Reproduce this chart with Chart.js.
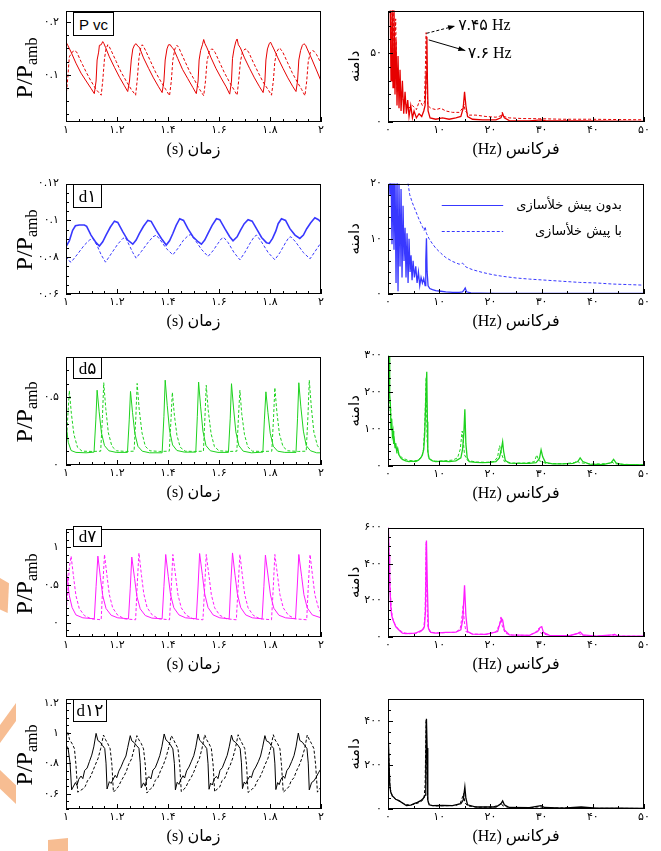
<!DOCTYPE html>
<html lang="fa">
<head>
<meta charset="utf-8">
<title>Pressure signals and spectra</title>
<script src="https://cdn.jsdelivr.net/npm/chart.js@4.4.1/dist/chart.umd.min.js"></script>
<style>
  html, body { margin:0; padding:0; background:#fff; }
  body { position:relative; width:661px; height:851px; overflow:hidden; }
  canvas { position:absolute; }
  .ytitle { position:absolute; font-family:'Liberation Serif','Times New Roman',serif; font-size:24px; line-height:24px; white-space:nowrap; color:#000; transform:translate(-50%,-50%) rotate(-90deg); }
  .ytitle span { font-size:16px; position:relative; top:5px; }
  .tag { position:absolute; border:1px solid #000; background:#fff; color:#000; box-sizing:border-box; display:flex; align-items:center; justify-content:center; z-index:5; white-space:nowrap; }
  .tag .sp { margin-left:4px; }
  .deco { position:absolute; background:#f7bd92; }
</style>
</head>
<body>
<script>
// ---------------- tick labels ----------------
const timeTicks = [1, 1.2, 1.4, 1.6, 1.8, 2];
const timeTickLabels = ['۱', '۱.۲', '۱.۴', '۱.۶', '۱.۸', '۲'];
const freqTicks = [0, 10, 20, 30, 40, 50];
const freqTickLabels = ['۰', '۱۰', '۲۰', '۳۰', '۴۰', '۵۰'];

const pvcYTicks = [0.1, 0.2];            const pvcYTickLabels = ['۰.۱', '۰.۲'];
const d1YTicks = [0.06, 0.08, 0.1, 0.12]; const d1YTickLabels = ['۰.۰۶', '۰.۰۸', '۰.۱', '۰.۱۲'];
const d5YTicks = [0, 0.5];               const d5YTickLabels = ['۰', '۰.۵'];
const d7YTicks = [0, 0.5, 1];            const d7YTickLabels = ['۰', '۰.۵', '۱'];
const d12YTicks = [0.6, 0.8, 1, 1.2];    const d12YTickLabels = ['۰.۶', '۰.۸', '۱', '۱.۲'];

const pvcAmpTicks = [0, 50];             const pvcAmpTickLabels = ['۰', '۵۰'];
const d1AmpTicks = [0, 10, 20];          const d1AmpTickLabels = ['۰', '۱۰', '۲۰'];
const d5AmpTicks = [0, 100, 200, 300];   const d5AmpTickLabels = ['۰', '۱۰۰', '۲۰۰', '۳۰۰'];
const d7AmpTicks = [0, 200, 400, 600];   const d7AmpTickLabels = ['۰', '۲۰۰', '۴۰۰', '۶۰۰'];
const d12AmpTicks = [0, 200, 400];       const d12AmpTickLabels = ['۰', '۲۰۰', '۴۰۰'];

const panelNames = ['Pvc', 'd۱', 'd۵', 'd۷', 'd۱۲'];
const seriesNames = ['بدون پیش خلأسازی', 'با پیش خلأسازی'];
const timeAxisTitle = 'زمان (s)';
const freqAxisTitle = 'فرکانس (Hz)';
const ampAxisTitle = 'دامنه';

// ---------------- time signals [t (s), P/Pamb] ----------------
const pvcTimeSolid = [[1.000,0.162],[1.007,0.156],[1.020,0.143],[1.039,0.122],[1.059,0.103],[1.079,0.088],[1.098,0.074],[1.111,0.064],
 [1.118,0.088],[1.122,0.128],[1.128,0.143],[1.131,0.156],[1.138,0.157],[1.144,0.163],[1.149,0.159],[1.155,0.152],[1.170,0.134],[1.190,0.114],[1.210,0.095],[1.229,0.079],[1.242,0.068],
 [1.249,0.088],[1.256,0.128],[1.262,0.149],[1.269,0.157],[1.275,0.159],[1.282,0.154],[1.288,0.152],[1.304,0.132],[1.324,0.112],[1.343,0.094],[1.363,0.077],[1.377,0.066],
 [1.384,0.088],[1.389,0.128],[1.396,0.149],[1.402,0.157],[1.409,0.157],[1.415,0.152],[1.422,0.149],[1.438,0.131],[1.457,0.110],[1.477,0.093],[1.497,0.076],[1.511,0.064],
 [1.518,0.088],[1.522,0.128],[1.528,0.146],[1.535,0.157],[1.540,0.167],[1.545,0.159],[1.553,0.151],[1.569,0.132],[1.588,0.112],[1.608,0.094],[1.628,0.077],[1.642,0.063],
 [1.649,0.088],[1.653,0.131],[1.659,0.149],[1.666,0.163],[1.671,0.168],[1.676,0.157],[1.684,0.151],[1.700,0.132],[1.720,0.112],[1.739,0.094],[1.759,0.077],[1.773,0.066],
 [1.780,0.088],[1.784,0.128],[1.790,0.149],[1.797,0.159],[1.802,0.162],[1.808,0.156],[1.815,0.149],[1.831,0.132],[1.851,0.112],[1.870,0.094],[1.890,0.077],[1.902,0.068],
 [1.908,0.088],[1.913,0.128],[1.920,0.146],[1.927,0.156],[1.933,0.159],[1.940,0.156],[1.946,0.149],[1.962,0.132],[1.982,0.109],[2.000,0.088]];
const pvcTimeDashed = [[1.000,0.057],[1.007,0.094],[1.013,0.134],[1.024,0.143],[1.033,0.146],[1.042,0.143],[1.059,0.125],[1.079,0.105],[1.098,0.088],[1.118,0.072],[1.138,0.061],
 [1.144,0.088],[1.151,0.131],[1.157,0.149],[1.164,0.157],[1.170,0.153],[1.180,0.143],[1.197,0.125],[1.216,0.105],[1.236,0.088],[1.256,0.072],[1.273,0.061],
 [1.279,0.088],[1.286,0.131],[1.292,0.149],[1.299,0.157],[1.305,0.153],[1.315,0.143],[1.332,0.125],[1.351,0.105],[1.371,0.088],[1.391,0.072],[1.406,0.060],
 [1.413,0.088],[1.419,0.128],[1.427,0.149],[1.435,0.156],[1.442,0.152],[1.450,0.143],[1.467,0.125],[1.486,0.105],[1.506,0.088],[1.524,0.072],[1.540,0.060],
 [1.547,0.088],[1.553,0.125],[1.561,0.143],[1.571,0.149],[1.577,0.148],[1.585,0.142],[1.602,0.124],[1.621,0.104],[1.641,0.086],[1.658,0.072],[1.671,0.061],
 [1.677,0.088],[1.684,0.125],[1.692,0.143],[1.702,0.149],[1.709,0.148],[1.717,0.142],[1.734,0.124],[1.754,0.104],[1.773,0.086],[1.792,0.072],[1.806,0.061],
 [1.813,0.088],[1.819,0.125],[1.827,0.144],[1.836,0.151],[1.843,0.148],[1.851,0.142],[1.868,0.124],[1.887,0.104],[1.907,0.086],[1.924,0.072],[1.937,0.060],
 [1.944,0.088],[1.950,0.125],[1.958,0.142],[1.967,0.146],[1.974,0.144],[1.983,0.138],[2.000,0.122]];

const d1TimeSolid = [[1.000,0.0857],[1.013,0.0889],[1.026,0.0946],[1.037,0.0971],[1.052,0.0975],[1.072,0.0975],[1.081,0.0968],[1.098,0.0920],[1.118,0.0879],[1.131,0.0861],
 [1.144,0.0884],[1.157,0.0920],[1.174,0.0964],[1.190,0.0996],[1.203,0.0989],[1.223,0.0938],[1.242,0.0893],[1.262,0.0871],[1.275,0.0893],[1.288,0.0929],[1.304,0.0968],
 [1.321,0.1000],[1.334,0.0995],[1.354,0.0946],[1.374,0.0902],[1.393,0.0866],[1.406,0.0889],[1.419,0.0929],[1.432,0.0973],[1.446,0.1009],[1.461,0.1000],[1.478,0.0955],
 [1.498,0.0911],[1.518,0.0884],[1.531,0.0871],[1.544,0.0893],[1.557,0.0929],[1.573,0.0973],[1.590,0.1009],[1.603,0.1004],[1.623,0.0955],[1.642,0.0911],[1.655,0.0889],
 [1.671,0.0911],[1.684,0.0946],[1.699,0.0982],[1.714,0.1004],[1.730,0.0996],[1.747,0.0955],[1.767,0.0907],[1.786,0.0879],[1.797,0.0875],[1.810,0.0902],[1.823,0.0943],
 [1.832,0.0982],[1.845,0.1009],[1.861,0.1000],[1.878,0.0955],[1.898,0.0920],[1.917,0.0902],[1.931,0.0920],[1.944,0.0955],[1.959,0.0986],[1.976,0.1014],[1.990,0.1004],[2.000,0.0991]];
const d1TimeDashed = [[1.000,0.0804],[1.010,0.0782],[1.020,0.0773],[1.046,0.0818],[1.072,0.0866],[1.092,0.0893],[1.105,0.0902],[1.121,0.0866],[1.138,0.0813],[1.155,0.0773],
 [1.177,0.0818],[1.203,0.0871],[1.223,0.0902],[1.233,0.0907],[1.246,0.0871],[1.262,0.0825],[1.275,0.0795],[1.295,0.0830],[1.321,0.0879],[1.341,0.0911],[1.354,0.0920],
 [1.370,0.0893],[1.393,0.0848],[1.419,0.0813],[1.439,0.0848],[1.461,0.0893],[1.478,0.0916],[1.488,0.0923],[1.505,0.0896],[1.531,0.0843],[1.557,0.0804],[1.577,0.0836],
 [1.596,0.0875],[1.609,0.0900],[1.619,0.0907],[1.636,0.0879],[1.659,0.0825],[1.682,0.0786],[1.701,0.0825],[1.723,0.0879],[1.738,0.0911],[1.747,0.0920],[1.764,0.0889],
 [1.793,0.0825],[1.819,0.0786],[1.839,0.0825],[1.861,0.0879],[1.874,0.0907],[1.882,0.0911],[1.900,0.0884],[1.931,0.0825],[1.957,0.0791],[1.976,0.0830],[2.000,0.0879]];

const d5TimeSolid = [[1.000,0.298],[1.009,0.167],[1.020,0.107],[1.039,0.093],[1.079,0.090],[1.110,0.095],[1.117,0.333],[1.122,0.552],[1.130,0.393],[1.139,0.238],[1.151,0.143],
 [1.168,0.105],[1.197,0.093],[1.241,0.093],[1.248,0.333],[1.253,0.543],[1.261,0.386],[1.270,0.233],[1.282,0.138],[1.299,0.102],[1.328,0.090],[1.377,0.090],[1.384,0.357],
 [1.389,0.626],[1.397,0.440],[1.406,0.257],[1.418,0.148],[1.435,0.107],[1.465,0.095],[1.509,0.095],[1.515,0.357],[1.520,0.612],[1.528,0.429],[1.537,0.250],[1.549,0.143],
 [1.566,0.105],[1.596,0.093],[1.637,0.093],[1.644,0.345],[1.649,0.600],[1.657,0.421],[1.666,0.245],[1.678,0.143],[1.695,0.102],[1.727,0.090],[1.772,0.095],[1.778,0.333],
 [1.784,0.540],[1.792,0.386],[1.801,0.233],[1.813,0.138],[1.830,0.102],[1.858,0.093],[1.902,0.093],[1.908,0.345],[1.913,0.607],[1.921,0.429],[1.931,0.250],[1.942,0.143],
 [1.959,0.105],[1.983,0.090],[2.000,0.090]];
const d5TimeDashed = [[1.000,0.107],[1.007,0.357],[1.013,0.548],[1.021,0.381],[1.031,0.226],[1.045,0.131],[1.063,0.102],[1.105,0.100],[1.136,0.102],[1.143,0.357],[1.148,0.607],
 [1.156,0.417],[1.166,0.238],[1.180,0.138],[1.198,0.105],[1.236,0.100],[1.267,0.102],[1.274,0.357],[1.279,0.602],[1.287,0.412],[1.298,0.238],[1.311,0.138],[1.329,0.105],
 [1.367,0.100],[1.405,0.102],[1.412,0.345],[1.417,0.536],[1.425,0.369],[1.435,0.219],[1.448,0.131],[1.467,0.102],[1.505,0.100],[1.539,0.102],[1.545,0.357],[1.550,0.588],
 [1.558,0.400],[1.569,0.231],[1.582,0.136],[1.600,0.105],[1.642,0.100],[1.670,0.102],[1.676,0.345],[1.682,0.552],[1.689,0.381],[1.700,0.224],[1.713,0.133],[1.731,0.102],
 [1.773,0.100],[1.807,0.102],[1.814,0.352],[1.819,0.571],[1.827,0.390],[1.837,0.229],[1.851,0.136],[1.869,0.105],[1.911,0.100],[1.942,0.102],[1.949,0.369],[1.954,0.626],
 [1.962,0.429],[1.972,0.243],[1.986,0.143],[2.000,0.107]];

const d7TimeSolid = [[1.000,0.732],[1.007,0.528],[1.013,0.357],[1.024,0.200],[1.039,0.102],[1.066,0.064],[1.111,0.051],[1.118,0.477],[1.125,0.881],[1.135,0.596],[1.144,0.357],
 [1.157,0.187],[1.177,0.098],[1.203,0.064],[1.245,0.051],[1.252,0.455],[1.258,0.868],[1.269,0.583],[1.278,0.349],[1.291,0.183],[1.311,0.094],[1.337,0.060],[1.377,0.051],
 [1.384,0.477],[1.391,0.902],[1.401,0.613],[1.410,0.370],[1.423,0.196],[1.443,0.102],[1.469,0.064],[1.511,0.051],[1.518,0.485],[1.524,0.915],[1.535,0.626],[1.544,0.379],
 [1.557,0.200],[1.577,0.102],[1.603,0.064],[1.640,0.051],[1.646,0.498],[1.653,0.923],[1.663,0.626],[1.672,0.383],[1.685,0.200],[1.705,0.102],[1.731,0.064],[1.769,0.051],
 [1.776,0.477],[1.782,0.894],[1.793,0.604],[1.802,0.366],[1.815,0.191],[1.835,0.098],[1.861,0.064],[1.900,0.051],[1.907,0.485],[1.913,0.902],[1.924,0.613],[1.933,0.370],
 [1.946,0.196],[1.966,0.102],[2.000,0.064]];
const d7TimeDashed = [[1.000,0.094],[1.007,0.434],[1.013,0.732],[1.020,0.881],[1.030,0.596],[1.039,0.357],[1.052,0.187],[1.072,0.094],[1.098,0.051],[1.138,0.038],[1.144,0.477],
 [1.151,0.902],[1.161,0.613],[1.170,0.370],[1.183,0.196],[1.203,0.098],[1.229,0.051],[1.273,0.038],[1.279,0.485],[1.286,0.923],[1.296,0.626],[1.305,0.383],[1.318,0.200],
 [1.338,0.102],[1.364,0.051],[1.406,0.038],[1.413,0.477],[1.419,0.902],[1.430,0.613],[1.439,0.370],[1.452,0.196],[1.472,0.098],[1.498,0.051],[1.537,0.038],[1.544,0.477],
 [1.550,0.902],[1.561,0.613],[1.570,0.370],[1.583,0.196],[1.603,0.098],[1.629,0.051],[1.668,0.038],[1.675,0.477],[1.682,0.902],[1.692,0.613],[1.701,0.370],[1.714,0.196],
 [1.734,0.098],[1.760,0.051],[1.806,0.038],[1.813,0.477],[1.819,0.902],[1.830,0.613],[1.839,0.370],[1.852,0.196],[1.872,0.098],[1.898,0.051],[1.944,0.038],[1.950,0.477],
 [1.957,0.902],[1.967,0.613],[1.976,0.370],[1.990,0.196],[2.000,0.128]];

const d12TimeSolid = [[1.000,0.919],[1.008,0.902],[1.016,0.802],[1.022,0.626],
 [1.037,0.674],[1.043,0.655],[1.050,0.696],[1.059,0.717],[1.066,0.700],[1.073,0.753],[1.083,0.770],[1.092,0.813],[1.101,0.855],[1.109,0.909],[1.118,0.998],[1.125,0.951],[1.134,0.940],[1.143,0.919],[1.152,0.898],[1.157,0.802],[1.161,0.632],
 [1.170,0.680],[1.177,0.668],[1.183,0.690],[1.193,0.722],[1.199,0.706],[1.207,0.749],[1.216,0.778],[1.225,0.815],[1.235,0.849],[1.242,0.905],[1.252,0.983],[1.258,0.949],[1.267,0.938],[1.277,0.917],[1.286,0.900],[1.291,0.805],[1.295,0.640],
 [1.304,0.672],[1.311,0.650],[1.317,0.700],[1.326,0.713],[1.333,0.698],[1.341,0.757],[1.350,0.772],[1.359,0.810],[1.368,0.853],[1.376,0.911],[1.385,0.994],[1.392,0.955],[1.401,0.942],[1.410,0.921],[1.419,0.896],[1.425,0.800],[1.429,0.626],
 [1.436,0.676],[1.443,0.662],[1.450,0.694],[1.459,0.719],[1.465,0.704],[1.473,0.751],[1.482,0.776],[1.491,0.811],[1.501,0.851],[1.509,0.907],[1.518,0.994],[1.524,0.953],[1.533,0.938],[1.543,0.919],[1.552,0.898],[1.557,0.798],[1.561,0.630],
 [1.567,0.670],[1.574,0.658],[1.581,0.698],[1.590,0.715],[1.596,0.700],[1.604,0.755],[1.613,0.772],[1.623,0.815],[1.632,0.853],[1.640,0.909],[1.649,0.987],[1.655,0.951],[1.664,0.940],[1.674,0.921],[1.683,0.898],[1.688,0.804],[1.692,0.634],
 [1.699,0.678],[1.705,0.664],[1.712,0.692],[1.721,0.717],[1.727,0.706],[1.735,0.751],[1.744,0.776],[1.754,0.811],[1.763,0.849],[1.771,0.907],[1.780,0.983],[1.786,0.949],[1.796,0.940],[1.805,0.917],[1.814,0.900],[1.819,0.802],[1.823,0.628],
 [1.830,0.674],[1.836,0.660],[1.843,0.696],[1.852,0.717],[1.858,0.702],[1.866,0.753],[1.875,0.774],[1.885,0.813],[1.894,0.851],[1.902,0.909],[1.911,1.000],[1.917,0.951],[1.927,0.940],[1.936,0.919],[1.945,0.898],[1.950,0.802],[1.954,0.626],
 [1.963,0.674],[1.972,0.685],[1.980,0.706],[1.990,0.738],[2.000,0.766]];
const d12TimeDashed = [[1.000,0.972],[1.007,1.004],[1.014,0.957],[1.024,0.930],[1.033,0.898],[1.039,0.791],[1.046,0.611],
 [1.066,0.632],[1.075,0.647],[1.084,0.685],[1.094,0.706],[1.105,0.749],[1.115,0.791],[1.126,0.834],[1.136,0.898],[1.147,0.987],[1.155,0.957],[1.164,0.930],[1.173,0.898],[1.180,0.791],[1.186,0.611],
 [1.197,0.630],[1.206,0.649],[1.215,0.681],[1.225,0.710],[1.236,0.745],[1.246,0.795],[1.257,0.830],[1.267,0.896],[1.278,0.983],[1.286,0.955],[1.295,0.932],[1.304,0.896],[1.311,0.789],[1.317,0.605],
 [1.332,0.634],[1.341,0.645],[1.350,0.689],[1.360,0.704],[1.371,0.753],[1.381,0.787],[1.392,0.838],[1.402,0.900],[1.413,0.983],[1.421,0.959],[1.430,0.928],[1.439,0.900],[1.446,0.793],[1.452,0.615],
 [1.463,0.630],[1.472,0.651],[1.481,0.683],[1.491,0.708],[1.502,0.747],[1.512,0.793],[1.523,0.832],[1.533,0.896],[1.544,0.989],[1.552,0.955],[1.561,0.930],[1.570,0.898],[1.577,0.789],[1.583,0.613],
 [1.594,0.634],[1.603,0.645],[1.612,0.687],[1.623,0.704],[1.633,0.751],[1.644,0.789],[1.654,0.836],[1.664,0.898],[1.675,0.989],[1.683,0.957],[1.692,0.928],[1.701,0.898],[1.708,0.791],[1.714,0.609],
 [1.731,0.632],[1.741,0.649],[1.750,0.685],[1.760,0.708],[1.771,0.749],[1.781,0.793],[1.792,0.834],[1.802,0.896],[1.813,0.989],[1.820,0.955],[1.830,0.930],[1.839,0.896],[1.845,0.791],[1.852,0.611],
 [1.865,0.630],[1.874,0.647],[1.883,0.685],[1.894,0.706],[1.904,0.751],[1.915,0.789],[1.925,0.834],[1.936,0.898],[1.946,0.987],[1.954,0.957],[1.963,0.930],[1.972,0.898],[1.979,0.791],[1.986,0.611],
 [1.993,0.632],[2.000,0.643]];

// ---------------- spectra [f (Hz), amplitude] ----------------
const pvcSpecSolid = [[0.20,120],[0.39,100],[0.59,30],[0.78,95],[0.98,25],[1.17,85],[1.37,20],[1.57,60],[1.76,12],[1.96,48],[2.15,10],[2.35,38],[2.55,8],[2.81,30],[3.07,6],
 [3.33,22],[3.59,6],[3.85,16],[4.11,4],[4.44,12],[4.77,3],[5.09,8],[5.55,3],[6.07,6],[6.59,4],[6.98,8],[7.25,12],[7.44,35],[7.60,62],[7.70,30],[7.83,8],[8.22,3],[9.33,2],
 [10.64,3],[11.95,2],[13.25,3],[14.23,4],[14.69,10],[14.95,22],[15.21,12],[15.54,4],[16.51,2],[18.47,1.5],[21.08,1.5],[22.06,3],[22.39,6],[22.72,3],[23.69,1],[27.61,0.8],
 [29.90,1.5],[30.87,0.8],[37.40,0.8],[43.93,0.6],[50.00,0.5]];
const pvcSpecDashed = [[0.07,120],[0.46,90],[0.72,60],[0.98,85],[1.24,40],[1.50,75],[1.76,22],[2.15,30],[2.68,18],[3.33,14],[3.98,10],[4.77,12],[5.55,9],[6.20,16],[6.72,12],
 [7.11,14],[7.31,40],[7.45,65],[7.57,30],[7.77,12],[8.36,10],[9.33,9],[10.31,10],[11.29,8],[12.60,7],[13.90,7],[14.56,10],[14.82,13],[15.08,8],[15.86,5],[17.17,5],[19.13,4],
 [21.08,3.5],[22.06,4.5],[22.32,7],[22.58,4],[23.69,3],[26.31,2.5],[29.57,2.4],[34.14,2],[39.36,2],[44.58,1.8],[50.00,1.6]];

const d1SpecSolid = [[0.20,22],[0.39,18],[0.59,22],[0.78,9],[0.98,22],[1.17,8],[1.37,22],[1.57,2],[1.76,22],[1.96,0.5],[2.15,20],[2.35,5],[2.55,19],[2.74,3],[2.94,16],
 [3.13,6],[3.33,12],[3.52,3],[3.72,11],[3.92,2],[4.11,10],[4.31,4],[4.50,7],[4.70,2.5],[4.90,6],[5.16,3],[5.42,5],[5.68,2],[5.94,4],[6.20,1.5],[6.46,3],[6.72,2],[6.98,2.8],
 [7.25,1.5],[7.38,6],[7.51,10.1],[7.64,4],[7.83,1.5],[8.16,1],[8.68,0.8],[9.33,0.6],[10.31,0.5],[11.29,0.4],[12.60,0.3],[13.90,0.3],[14.56,0.4],[14.88,0.8],[15.08,1.1],
 [15.34,0.4],[16.19,0.2],[17.82,0.15],[21.08,0.1],[27.61,0.1],[34.14,0.1],[40.67,0.1],[50.00,0.1]];
const d1SpecDashed = [[0.20,25],[0.52,19],[0.85,24],[1.17,21],[1.50,25],[1.83,20],[2.15,24],[2.55,21],[2.94,23],[3.33,21],[3.59,22],[3.92,20],[4.24,18],[4.77,16.5],[5.42,15],
 [6.07,13.5],[6.72,12.2],[7.05,11.5],[7.25,12.2],[7.51,11],[8.03,10],[8.68,9.1],[9.33,8.3],[10.31,7.4],[11.29,6.6],[12.60,5.9],[13.90,5.4],[14.56,5.6],[15.21,4.9],[16.51,4.4],
 [18.47,3.9],[20.43,3.5],[22.39,3.2],[25.00,2.9],[27.61,2.7],[30.87,2.5],[34.14,2.3],[37.40,2.1],[40.67,2.0],[43.93,1.8],[47.19,1.7],[50.00,1.6]];

const d5SpecSolid = [[0.07,300],[0.20,296],[0.33,190],[0.46,170],[0.59,100],[0.72,128],[0.85,84],[0.98,95],[1.11,60],[1.24,70],[1.37,50],[1.50,62],[1.70,40],[1.89,48],
 [2.15,30],[2.48,22],[2.81,18],[3.46,14],[4.11,12],[4.77,13],[5.42,12],[5.94,16],[6.40,22],[6.72,30],[6.98,45],[7.18,90],[7.38,180],[7.57,256],[7.70,120],[7.77,40],[8.03,20],
 [8.68,14],[9.33,12],[10.64,13],[11.95,12],[13.25,14],[14.23,22],[14.56,45],[14.82,90],[15.01,154],[15.21,60],[15.47,22],[15.86,12],[17.17,10],[18.47,9],[19.78,10],
 [21.08,12],[21.74,22],[22.06,40],[22.39,66],[22.58,40],[22.91,15],[23.69,8],[25.65,7],[27.61,7],[28.92,9],[29.57,20],[29.90,44],[30.22,25],[30.74,10],[32.18,6],[34.14,6],
 [36.10,7],[37.08,12],[37.53,22],[38.05,12],[39.36,5],[41.97,4],[43.60,9],[44.06,18],[44.58,8],[45.89,4],[47.85,4],[50.00,3]];
const d5SpecDashed = [[0.07,300],[0.26,220],[0.39,150],[0.52,160],[0.65,110],[0.85,90],[1.04,75],[1.31,60],[1.57,50],[1.83,38],[2.15,30],[2.81,22],[3.79,16],[4.77,14],
 [5.74,15],[6.59,25],[6.92,45],[7.18,110],[7.44,240],[7.64,70],[7.90,25],[8.36,16],[9.33,13],[10.97,14],[12.60,16],[13.58,22],[14.10,45],[14.49,95],[14.69,70],[14.95,30],
 [15.54,15],[17.17,11],[19.13,10],[20.76,12],[21.41,25],[21.80,55],[22.13,35],[22.72,12],[24.35,8],[26.96,8],[28.59,12],[29.05,30],[29.44,15],[30.87,7],[34.14,6],[36.42,9],
 [36.88,14],[37.40,9],[40.01,5],[43.28,7],[43.67,11],[44.26,6],[47.19,4],[50.00,3]];

const d7SpecSolid = [[0.07,600],[0.20,450],[0.33,297],[0.52,173],[0.72,119],[0.98,93],[1.24,75],[1.50,57],[1.89,45],[2.28,34],[2.81,21],[3.46,18],[4.44,20],[5.42,21],
 [6.07,30],[6.72,39],[7.11,57],[7.31,137],[7.51,529],[7.70,262],[7.90,48],[8.36,25],[9.33,21],[11.29,25],[13.25,27],[14.23,39],[14.62,101],[14.95,283],[15.21,119],
 [15.54,30],[16.51,16],[19.13,14],[21.41,30],[21.87,75],[22.19,101],[22.39,93],[22.72,39],[23.69,12],[27.61,9],[29.24,30],[29.70,52],[30.03,57],[30.35,25],[31.53,9],
 [35.44,7],[37.08,20],[37.53,27],[38.05,12],[40.67,5],[43.80,12],[44.26,14],[44.91,5],[50.00,4]];
const d7SpecDashed = [[0.07,600],[0.26,400],[0.46,250],[0.65,160],[0.85,110],[1.11,85],[1.37,70],[1.70,55],[2.15,40],[2.68,30],[3.33,22],[4.11,18],[5.09,20],[5.94,24],
 [6.59,32],[6.98,45],[7.25,130],[7.44,520],[7.57,240],[7.77,60],[8.16,28],[9.33,22],[11.29,24],[13.25,26],[14.10,45],[14.49,120],[14.69,176],[14.88,90],[15.21,30],
 [16.51,16],[19.13,15],[21.08,28],[21.80,70],[22.06,110],[22.32,60],[22.91,20],[24.35,10],[27.61,9],[28.92,28],[29.44,48],[29.90,20],[31.53,8],[35.44,7],[36.88,18],
 [37.08,25],[37.73,10],[40.67,5],[43.28,9],[43.60,12],[44.26,5],[50.00,4]];

const d12SpecSolid = [[0.07,314],[0.33,115],[0.52,78],[0.85,59],[1.17,53],[1.50,44],[2.15,38],[2.81,27],[3.59,16],[4.44,18],[5.09,24],[5.74,30],[6.40,38],[6.92,49],
 [7.25,63],[7.38,189],[7.51,410],[7.64,277],[7.77,41],[8.03,19],[8.68,15],[10.64,16],[12.60,15],[14.23,24],[14.69,41],[15.01,100],[15.21,49],[15.54,19],[17.17,9],[21.08,9],
 [22.06,24],[22.39,37],[22.72,19],[23.69,7],[27.61,6],[29.90,15],[30.55,7],[34.14,4],[37.73,9],[40.67,4],[45.23,4],[50.00,3]];
const d12SpecDashed = [[0.07,300],[0.39,100],[0.65,70],[0.98,55],[1.31,48],[1.83,40],[2.48,32],[3.33,22],[4.24,17],[5.16,22],[5.94,28],[6.59,36],[7.05,50],[7.25,110],
 [7.44,405],[7.57,200],[7.77,35],[8.16,17],[9.33,14],[11.29,15],[13.25,16],[14.10,25],[14.56,55],[14.75,70],[15.01,30],[15.54,14],[17.82,8],[20.43,9],[21.74,18],[22.06,28],
 [22.39,15],[23.69,6],[27.61,5],[29.44,10],[30.03,8],[31.53,4],[36.88,6],[37.53,5],[40.67,3],[45.23,3],[50.00,2.5]];

// annotation anchors (data coordinates of the Pvc spectrum)
const pvcPeakNotes = [
  { text:'۷.۴۵ Hz', from:[7.55, 64.5], to:[13.1, 69.8], label:[13.7, 70.3], dashed:true },
  { text:'۷.۶ Hz',  from:[7.95, 59.7], to:[15.1, 51.9], label:[15.6, 49.9], dashed:false }
];
// legend anchors (data coordinates of the d1 spectrum)
const d1LegendAnchor = { lineFrom:10.5, lineTo:22.5, textRight:45.7, rows:[16.1, 11.4] };

// ---------------- drawing ----------------
const TICK_FONT = "'DejaVu Sans', sans-serif";
const SERIF_FONT = "'Liberation Serif', 'DejaVu Sans', serif";
const colors = { pvc:'#e60000', d1:'#3838ff', d5:'#1ed21e', d7:'#ff1cff', d12:'#000000' };

function toXY(arr) { return arr.map(p => ({ x:p[0], y:p[1] })); }

function makeFramePlugin(cfg) {
  return {
    id:'frameTicks',
    afterDatasetsDraw(chart) {
      const { ctx, chartArea:a, scales:{ x, y } } = chart;
      ctx.save();
      ctx.strokeStyle = '#000'; ctx.lineWidth = 1; ctx.setLineDash([]);
      ctx.beginPath();
      const nx = Math.round((x.max - x.min) / cfg.xMinor);
      for (let k = 0; k <= nx; k++) {
        const v = x.min + k * cfg.xMinor;
        const px = Math.round(x.getPixelForValue(v)) + 0.5;
        const major = cfg.xMajor.some(m => Math.abs(m - v) < cfg.xMinor / 10);
        ctx.moveTo(px, a.bottom); ctx.lineTo(px, a.bottom - (major ? 5 : 3));
      }
      const k0 = Math.ceil(y.min / cfg.yMinor - 1e-6), k1 = Math.floor(y.max / cfg.yMinor + 1e-6);
      for (let k = k0; k <= k1; k++) {
        const v = k * cfg.yMinor;
        const py = Math.round(y.getPixelForValue(v)) + 0.5;
        const major = cfg.yMajor.some(m => Math.abs(m - v) < cfg.yMinor / 10);
        ctx.moveTo(a.left, py); ctx.lineTo(a.left + (major ? 5 : 3), py);
      }
      ctx.stroke();
      const l = Math.round(a.left) + 0.5, t = Math.round(a.top) + 0.5;
      const r = Math.round(a.right) - 0.5, b = Math.round(a.bottom) - 0.5;
      ctx.strokeRect(l, t, r - l, b - t);
      ctx.restore();
    }
  };
}

function makeNotesPlugin(notes) {
  return {
    id:'peakNotes',
    afterDatasetsDraw(chart) {
      const { ctx, scales:{ x, y } } = chart;
      ctx.save();
      notes.forEach(n => {
        const x0 = x.getPixelForValue(n.from[0]), y0 = y.getPixelForValue(n.from[1]);
        const x1 = x.getPixelForValue(n.to[0]), y1 = y.getPixelForValue(n.to[1]);
        ctx.strokeStyle = '#000'; ctx.fillStyle = '#000'; ctx.lineWidth = 1;
        ctx.setLineDash(n.dashed ? [3, 2] : []);
        ctx.beginPath(); ctx.moveTo(x0, y0); ctx.lineTo(x1, y1); ctx.stroke();
        ctx.setLineDash([]);
        const ang = Math.atan2(y1 - y0, x1 - x0), L = 7, W = 2.5;
        ctx.beginPath(); ctx.moveTo(x1, y1);
        ctx.lineTo(x1 - L * Math.cos(ang) + W * Math.sin(ang), y1 - L * Math.sin(ang) - W * Math.cos(ang));
        ctx.lineTo(x1 - L * Math.cos(ang) - W * Math.sin(ang), y1 - L * Math.sin(ang) + W * Math.cos(ang));
        ctx.closePath(); ctx.fill();
        ctx.direction = 'ltr'; ctx.textAlign = 'left'; ctx.textBaseline = 'middle';
        ctx.font = "16px " + SERIF_FONT;
        ctx.fillText(n.text, x.getPixelForValue(n.label[0]), y.getPixelForValue(n.label[1]));
      });
      ctx.restore();
    }
  };
}

function makeLegendPlugin(anchor, names, color) {
  return {
    id:'seriesLegend',
    afterDatasetsDraw(chart) {
      const { ctx, scales:{ x, y } } = chart;
      ctx.save();
      names.forEach((name, i) => {
        const py = Math.round(y.getPixelForValue(anchor.rows[i])) + 0.5;
        ctx.strokeStyle = color; ctx.lineWidth = 1;
        ctx.setLineDash(i === 1 ? [3, 2] : []);
        ctx.beginPath();
        ctx.moveTo(x.getPixelForValue(anchor.lineFrom), py);
        ctx.lineTo(x.getPixelForValue(anchor.lineTo), py);
        ctx.stroke();
        ctx.setLineDash([]);
        ctx.fillStyle = '#000';
        ctx.direction = 'rtl'; ctx.textAlign = 'right'; ctx.textBaseline = 'middle';
        ctx.font = "13px " + TICK_FONT;
        ctx.fillText(name, x.getPixelForValue(anchor.textRight), py);
      });
      ctx.restore();
    }
  };
}

function buildPanel(p) {
  const padTop = 10, axisH = 46;
  const h = p.bottom - p.top + padTop + axisH;
  const cv = document.createElement('canvas');
  cv.width = p.width; cv.height = h;
  cv.style.left = p.left + 'px'; cv.style.top = (p.top - padTop) + 'px';
  cv.style.width = p.width + 'px'; cv.style.height = h + 'px';
  cv.setAttribute('dir', 'rtl');
  document.body.appendChild(cv);
  const datasets = p.series.map(s => ({
    label: s.name, data: toXY(s.data), borderColor: s.color, borderWidth: s.width || 1,
    borderDash: s.dashed ? [3, 2] : [], pointRadius: 0, fill: false, tension: 0
  }));
  return new Chart(cv.getContext('2d'), {
    type: 'line',
    data: { datasets },
    options: {
      responsive: false, animation: false, events: [], devicePixelRatio: 1,
      layout: { padding: { top: padTop, right: p.padRight, bottom: 0, left: 0 } },
      plugins: { legend: { display: false }, tooltip: { enabled: false } },
      scales: {
        x: {
          type: 'linear', min: p.xMin, max: p.xMax,
          afterBuildTicks: s => { s.ticks = p.xTicks.map(v => ({ value: v })); },
          afterFit: s => { s.height = axisH; },
          ticks: { autoSkip: false, maxRotation: 0, minRotation: 0, padding: 2, color: '#000',
                   font: { family: TICK_FONT, size: 11 }, callback: (v, i) => p.xTickLabels[i] },
          grid: { display: false, drawTicks: false },
          border: { display: false },
          title: { display: true, text: p.xTitle, color: '#000', font: { family: SERIF_FONT, size: 16 },
                   padding: { top: 0, bottom: 9 } }
        },
        y: {
          type: 'linear', min: p.yMin, max: p.yMax,
          afterBuildTicks: s => { s.ticks = p.yTicks.map(v => ({ value: v })); },
          afterFit: s => { s.width = p.yW; },
          ticks: { autoSkip: false, padding: p.yPad, color: '#000',
                   font: { family: TICK_FONT, size: 11 }, callback: (v, i) => p.yTickLabels[i] },
          grid: { display: false, drawTicks: false },
          border: { display: false },
          title: p.yTitle ? { display: true, text: p.yTitle, color: '#000', font: { family: TICK_FONT, size: 15 },
                              padding: { top: 16, bottom: 0 } } : { display: false }
        }
      }
    },
    plugins: [makeFramePlugin(p.minor)].concat(p.plugins || [])
  });
}

const L = { left: 0, width: 333, padRight: 12, yW: 66, yPad: 7, xMin: 1, xMax: 2, xTicks: timeTicks, xTickLabels: timeTickLabels, xTitle: timeAxisTitle };
const R = { left: 330, width: 331, padRight: 17, yW: 58, yPad: 6, xMin: 0, xMax: 50, xTicks: freqTicks, xTickLabels: freqTickLabels, xTitle: freqAxisTitle, yTitle: ampAxisTitle };

function pair(solid, dashed, color, solidWidth) {
  return [ { name: seriesNames[0], data: solid, color, dashed: false, width: solidWidth || 1 },
           { name: seriesNames[1], data: dashed, color, dashed: true, width: 1 } ];
}

// time-domain panels
buildPanel(Object.assign({}, L, { top: 7, bottom: 122, yMin: 0.01, yMax: 0.222, yTicks: pvcYTicks, yTickLabels: pvcYTickLabels,
  series: pair(pvcTimeSolid, pvcTimeDashed, colors.pvc), minor: { xMinor: 0.05, xMajor: timeTicks, yMinor: 0.025, yMajor: pvcYTicks } }));
buildPanel(Object.assign({}, L, { top: 180, bottom: 294, yMin: 0.06, yMax: 0.12, yTicks: d1YTicks, yTickLabels: d1YTickLabels,
  series: pair(d1TimeSolid, d1TimeDashed, colors.d1, 1.6), minor: { xMinor: 0.05, xMajor: timeTicks, yMinor: 0.005, yMajor: d1YTicks } }));
buildPanel(Object.assign({}, L, { top: 353, bottom: 465, yMin: 0, yMax: 0.8, yTicks: d5YTicks, yTickLabels: d5YTickLabels,
  series: pair(d5TimeSolid, d5TimeDashed, colors.d5), minor: { xMinor: 0.05, xMajor: timeTicks, yMinor: 0.1, yMajor: d5YTicks } }));
buildPanel(Object.assign({}, L, { top: 525, bottom: 637, yMin: -0.19, yMax: 1.245, yTicks: d7YTicks, yTickLabels: d7YTickLabels,
  series: pair(d7TimeSolid, d7TimeDashed, colors.d7), minor: { xMinor: 0.05, xMajor: timeTicks, yMinor: 0.1, yMajor: d7YTicks } }));
buildPanel(Object.assign({}, L, { top: 695, bottom: 809, yMin: 0.5, yMax: 1.227, yTicks: d12YTicks, yTickLabels: d12YTickLabels,
  series: pair(d12TimeSolid, d12TimeDashed, colors.d12), minor: { xMinor: 0.05, xMajor: timeTicks, yMinor: 0.05, yMajor: d12YTicks } }));

// spectrum panels
buildPanel(Object.assign({}, R, { top: 8, bottom: 122, yMin: 0, yMax: 81, yTicks: pvcAmpTicks, yTickLabels: pvcAmpTickLabels,
  series: pair(pvcSpecSolid, pvcSpecDashed, colors.pvc, 1.3), minor: { xMinor: 5, xMajor: freqTicks, yMinor: 10, yMajor: pvcAmpTicks },
  plugins: [makeNotesPlugin(pvcPeakNotes)] }));
buildPanel(Object.assign({}, R, { top: 181, bottom: 294, yMin: 0, yMax: 20, yTicks: d1AmpTicks, yTickLabels: d1AmpTickLabels,
  series: pair(d1SpecSolid, d1SpecDashed, colors.d1, 1.3), minor: { xMinor: 5, xMajor: freqTicks, yMinor: 2, yMajor: d1AmpTicks },
  plugins: [makeLegendPlugin(d1LegendAnchor, seriesNames, colors.d1)] }));
buildPanel(Object.assign({}, R, { top: 353, bottom: 466, yMin: 0, yMax: 300, yTicks: d5AmpTicks, yTickLabels: d5AmpTickLabels,
  series: pair(d5SpecSolid, d5SpecDashed, colors.d5, 1.3), minor: { xMinor: 5, xMajor: freqTicks, yMinor: 20, yMajor: d5AmpTicks } }));
buildPanel(Object.assign({}, R, { top: 525, bottom: 637, yMin: 0, yMax: 600, yTicks: d7AmpTicks, yTickLabels: d7AmpTickLabels,
  series: pair(d7SpecSolid, d7SpecDashed, colors.d7, 1.3), minor: { xMinor: 5, xMajor: freqTicks, yMinor: 50, yMajor: d7AmpTicks } }));
buildPanel(Object.assign({}, R, { top: 696, bottom: 809, yMin: 0, yMax: 502, yTicks: d12AmpTicks, yTickLabels: d12AmpTickLabels,
  series: pair(d12SpecSolid, d12SpecDashed, colors.d12, 1.3), minor: { xMinor: 5, xMajor: freqTicks, yMinor: 50, yMajor: d12AmpTicks } }));

// ---------------- HTML overlays: y titles and panel tags ----------------
const leftRows = [ [7,122], [180,294], [353,465], [525,637], [695,809] ];
leftRows.forEach(r => {
  const d = document.createElement('div');
  d.className = 'ytitle';
  d.innerHTML = 'P/P<span>amb</span>';
  d.style.left = '25px';
  d.style.top = ((r[0] + r[1]) / 2 + 3) + 'px';
  document.body.appendChild(d);
});
const tagBoxes = [
  { l:73, t:12, w:41, h:24, font:"15px 'Liberation Sans', Arial, sans-serif" },
  { l:73, t:184, w:29, h:24, font:"17px " + SERIF_FONT },
  { l:73, t:357, w:29, h:22, font:"17px " + SERIF_FONT },
  { l:73, t:526, w:29, h:21, font:"17px " + SERIF_FONT },
  { l:73, t:699, w:34, h:23, font:"17px " + SERIF_FONT }
];
tagBoxes.forEach((b, i) => {
  const d = document.createElement('div');
  d.className = 'tag';
  const name = panelNames[i];
  if (name === 'Pvc') {
    d.appendChild(document.createTextNode(name.slice(0, 1)));
    const s = document.createElement('span'); s.className = 'sp'; s.textContent = name.slice(1);
    d.appendChild(s);
  } else {
    d.textContent = name;
  }
  Object.assign(d.style, { left: b.l + 'px', top: b.t + 'px', width: b.w + 'px', height: b.h + 'px', font: b.font });
  document.body.appendChild(d);
});
// decorative page marks at the left margin
const decoShapes = [
  { l:0, t:578, w:9, h:35, clip:'polygon(0 0, 100% 15%, 85% 100%, 0 90%)' },
  { l:0, t:703, w:16, h:40, clip:'polygon(0 55%, 100% 0, 100% 45%, 0 100%)' },
  { l:0, t:770, w:16, h:34, clip:'polygon(0 0, 100% 45%, 100% 100%, 0 55%)' },
  { l:48, t:838, w:20, h:13, clip:'polygon(0 15%, 100% 0, 100% 100%, 0 100%)' }
];
decoShapes.forEach(s => {
  const d = document.createElement('div');
  d.className = 'deco';
  Object.assign(d.style, { left: s.l + 'px', top: s.t + 'px', width: s.w + 'px', height: s.h + 'px', clipPath: s.clip });
  document.body.appendChild(d);
});
</script>
</body>
</html>
